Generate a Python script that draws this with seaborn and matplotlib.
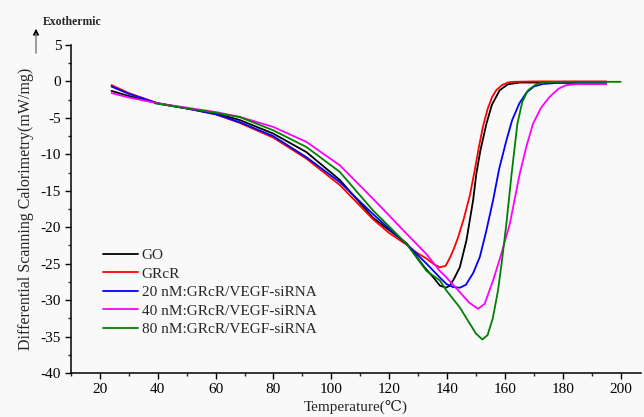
import numpy as np
import pandas as pd
import matplotlib
matplotlib.use('Agg')
import matplotlib.pyplot as plt
import seaborn as sns
from matplotlib.ticker import MultipleLocator

# Values (temperature in C, heat flow in mW/mg)
go_t = [24, 30, 40, 50, 60, 68.4, 79.9, 91.4, 102.9, 114.4, 120, 126, 132, 135.5, 137.5,
        139.6, 141, 142.5, 144.4, 146.7, 149, 150.1, 151.5, 153.6, 155.5, 158.2, 161, 165,
        175, 195]
go_v = [-1.3, -2.0, -3.0, -3.7, -4.4, -5.3, -7.15, -9.7, -13.5, -18.7, -20.4, -22.2, -25.4,
        -27.0, -28.0, -28.3, -28.0, -27.0, -25.5, -21.8, -16.3, -12.7, -9.5, -5.8, -3.2,
        -1.2, -0.4, -0.15, -0.15, -0.15]

grcr_t = [24, 30, 40, 50, 60, 68.4, 79.9, 91.4, 102.9, 114.4, 120, 126, 129.5, 132.9, 135.5,
          137.5, 139.5, 141.1, 142.5, 143.8, 145.8, 147.9, 149.5, 151, 152.4, 154, 155.5,
          157, 159, 161, 163, 170, 195]
grcr_v = [-0.5, -1.6, -3.0, -3.7, -4.5, -5.7, -7.7, -10.6, -14.2, -18.9, -20.8, -22.4, -23.5,
          -24.3, -25.1, -25.5, -25.3, -24.1, -22.8, -21.4, -18.8, -15.6, -12.3, -9.0, -6.2,
          -3.8, -2.2, -1.2, -0.5, -0.15, -0.05, 0.0, 0.0]

si20_t = [24, 30, 40, 50, 60, 68.4, 79.9, 91.4, 102.9, 114.4, 120, 126, 132.9, 137.5, 139.8,
          142, 144.4, 146.5, 149, 151.3, 153.5, 155.9, 158, 160.5, 162.5, 165, 167.5, 170,
          173, 178, 195]
si20_v = [-0.7, -1.7, -3.0, -3.7, -4.5, -5.6, -7.5, -10.4, -13.8, -18.2, -20.2, -22.3, -25.0,
          -26.9, -27.8, -28.2, -28.3, -27.9, -26.3, -24.1, -20.6, -16.3, -12.0, -8.1, -5.3,
          -3.0, -1.5, -0.7, -0.35, -0.2, -0.2]

si40_t = [24, 30, 40, 50, 60, 68.4, 79.9, 91.4, 102.9, 114.4, 120, 126, 132.9, 137.5, 139.8,
          144.4, 147.5, 150.7, 153, 155.9, 158.5, 161.7, 165.1, 167.5, 169.7, 172.5, 175.5,
          178.5, 181.2, 185, 195]
si40_v = [-1.6, -2.2, -3.0, -3.6, -4.2, -4.87, -6.24, -8.3, -11.5, -16.1, -18.4, -20.9, -23.7,
          -26.0, -26.9, -28.9, -30.3, -31.2, -30.5, -27.3, -24.0, -19.5, -12.7, -8.8, -5.8,
          -3.6, -2.1, -1.0, -0.5, -0.37, -0.37]

si80_t = [39, 50, 60, 68.4, 79.9, 91.4, 102.9, 114.4, 120, 126, 132.9, 137.5, 139.8, 144.4,
          147.5, 150, 152.2, 154, 155.8, 157.6, 159, 160.5, 162.3, 164.3, 166, 168, 170.9,
          174, 180, 200]
si80_v = [-3.0, -3.7, -4.3, -4.9, -6.7, -9.0, -12.4, -17.7, -19.9, -22.3, -26.0, -27.3, -28.7,
          -31.0, -33.0, -34.6, -35.4, -34.8, -32.5, -28.7, -24.5, -19.5, -12.7, -5.8, -2.8,
          -1.2, -0.37, -0.1, -0.05, -0.05]

labels = ['GO', 'GRcR', '20 nM:GRcR/VEGF-siRNA', '40 nM:GRcR/VEGF-siRNA', '80 nM:GRcR/VEGF-siRNA']
colors = ['black', '#ff0000', '#0000ff', '#ff00ff', '#008000']
series = [(go_t, go_v), (grcr_t, grcr_v), (si20_t, si20_v), (si40_t, si40_v), (si80_t, si80_v)]

sns.set_style('ticks')
plt.rcParams['font.family'] = ['Liberation Serif', 'DejaVu Serif']
plt.rcParams['axes.unicode_minus'] = False

fig = plt.figure(figsize=(6.44, 4.17), dpi=100, facecolor='#f9f9f9')
ax = fig.add_axes([0.1102, 0.1055, 0.885, 0.7866])
ax.set_facecolor('#f9f9f9')

for (t, v), lab, col in zip(series, labels, colors):
    df = pd.DataFrame({'T': t, 'DSC': v})
    sns.lineplot(data=df, x='T', y='DSC', color=col, label=lab, linewidth=1.3,
                 estimator=None, sort=False, ax=ax)

ax.set_xlim(10, 207)
ax.set_ylim(-40, 5)
ax.xaxis.set_major_locator(MultipleLocator(20))
ax.xaxis.set_minor_locator(MultipleLocator(10))
ax.yaxis.set_major_locator(MultipleLocator(5))
ax.yaxis.set_minor_locator(MultipleLocator(2.5))
ax.set_xticks(np.arange(20, 201, 20))

for s in ['top', 'right']:
    ax.spines[s].set_visible(False)
for s in ['left', 'bottom']:
    ax.spines[s].set_linewidth(1.1)
    ax.spines[s].set_color('black')

ax.tick_params(which='major', direction='out', length=4, width=1, labelsize=11, pad=3,
               colors='black')
ax.tick_params(which='minor', direction='out', length=2.5, width=1)

ax.set_xlabel('Temperature(\u2103)', fontsize=11, labelpad=3)
ax.set_ylabel('Differential Scanning Calorimetry(mW/mg)', fontsize=11.5, labelpad=5)

leg = ax.legend(loc='upper left', bbox_to_anchor=(0.0555, 0.379), frameon=False,
                fontsize=11, handlelength=2.3, handletextpad=0.25, labelspacing=0.31,
                borderpad=0, borderaxespad=0)

# "Exothermic" marker above the y axis: gray shaft, black head
fig.add_artist(matplotlib.lines.Line2D([36 / 644, 36 / 644], [1 - 53 / 417, 1 - 34 / 417],
                                       transform=fig.transFigure, color='0.55', linewidth=1.2))
fig.patches.append(matplotlib.patches.FancyArrowPatch(
    (36 / 644, 1 - 36 / 417), (36 / 644, 1 - 26 / 417), transform=fig.transFigure,
    arrowstyle='-|>', mutation_scale=9, color='black', linewidth=0.8))
fig.text(43 / 644, 1 - 22 / 417, 'Exothermic', fontsize=8.5, fontweight='bold',
         va='center', ha='left')

fig.savefig('out.png', dpi=100, facecolor=fig.get_facecolor())
